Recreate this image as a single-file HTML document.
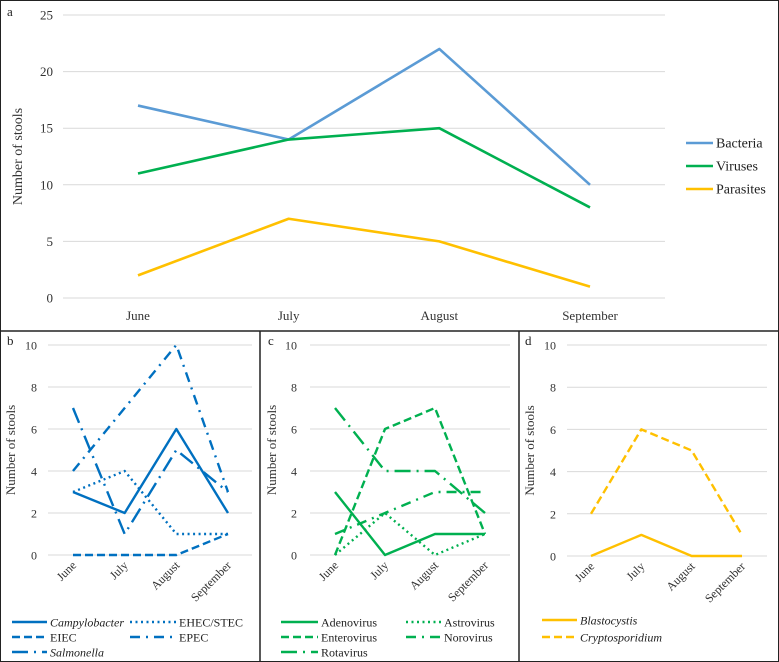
<!DOCTYPE html>
<html><head><meta charset="utf-8"><style>
html,body{margin:0;padding:0;background:#fff}
svg{display:block;font-family:"Liberation Serif",serif}
</style></head><body>
<svg id="c" width="779" height="662" viewBox="0 0 779 662" xmlns="http://www.w3.org/2000/svg">
<rect x="0.5" y="0.5" width="778" height="661" fill="#fff" stroke="#222"/>
<line x1="0" y1="331" x2="779" y2="331" stroke="#222" stroke-width="1.5"/>
<line x1="260" y1="331" x2="260" y2="662" stroke="#222" stroke-width="1.5"/>
<line x1="519" y1="331" x2="519" y2="662" stroke="#222" stroke-width="1.5"/>
</svg>
<script>
const months = ["June","July","August","September"];
// panel a
const aNames = ["Bacteria","Viruses","Parasites"];
const aBacteria = [17,14,22,10];
const aViruses = [11,14,15,8];
const aParasites = [2,7,5,1];
const aTicks = [0,5,10,15,20,25];
// panel b
const bNames = ["Campylobacter","EHEC/STEC","EIEC","EPEC","Salmonella"];
const bCampylobacter = [3,2,6,2];
const bEHEC = [3,4,1,1];
const bEIEC = [0,0,0,1];
const bEPEC = [4,7,10,3];
const bSalmonella = [7,1,5,3];
// panel c
const cNames = ["Adenovirus","Astrovirus","Enterovirus","Norovirus","Rotavirus"];
const cAdenovirus = [3,0,1,1];
const cAstrovirus = [0,2,0,1];
const cEnterovirus = [0,6,7,1];
const cNorovirus = [1,2,3,3];
const cRotavirus = [7,4,4,2];
// panel d
const dNames = ["Blastocystis","Cryptosporidium"];
const dBlastocystis = [0,1,0,0];
const dCryptosporidium = [2,6,5,1];
const smallTicks = [0,2,4,6,8,10];

const NS="http://www.w3.org/2000/svg";
const svg=document.getElementById('c');
function el(tag,attrs,parent){const e=document.createElementNS(NS,tag);for(const k in attrs)e.setAttribute(k,attrs[k]);(parent||svg).appendChild(e);return e;}
function txt(s,attrs,parent){const e=el('text',attrs,parent);e.textContent=s;return e;}

function panel(cfg){
  const g=el('g',{});
  
  
  const ymax=cfg.ticks[cfg.ticks.length-1];
  const y=v=>cfg.y0+(cfg.y1-cfg.y0)*v/ymax;
  const x=i=>cfg.xs[0]+(cfg.xs[1]-cfg.xs[0])*i/(months.length-1);
  const lbl=txt(cfg.letter,{x:cfg.letterX,y:cfg.letterY,'font-size':13,fill:'#222'},g);
  
  
  cfg.ticks.forEach(t=>{
    const l=el('line',{x1:cfg.gx0,x2:cfg.gx1,y1:y(t),y2:y(t),stroke:'#d9d9d9','stroke-width':1},g);
    
    
    const tl=txt(String(t),{x:cfg.tickX,y:y(t)+4.5,'text-anchor':'end','font-size':cfg.fs,fill:'#333'},g);
    
    
  });
  const at=txt('Number of stools',{x:cfg.titleX,y:(cfg.y0+cfg.y1)/2,'text-anchor':'middle','font-size':cfg.fs+1,fill:'#333',transform:`rotate(-90 ${cfg.titleX} ${(cfg.y0+cfg.y1)/2})`},g);
  
  
  months.forEach((m,i)=>{
    let t;
    if(cfg.rot){
      const xx=x(i)+4, yy=cfg.y0+11;
      t=txt(m,{x:xx,y:yy,'text-anchor':'end','font-size':cfg.fs,fill:'#333',transform:`rotate(-45 ${xx} ${yy})`},g);
    } else {
      t=txt(m,{x:x(i),y:cfg.y0+22,'text-anchor':'middle','font-size':cfg.fs,fill:'#333'},g);
    }
    
    
  });
  cfg.series.forEach((s,k)=>{
    const pts=s.data.map((v,i)=>x(i)+','+y(v)).join(' ');
    const p=el('polyline',{points:pts,fill:'none',stroke:s.color,'stroke-width':cfg.sw,'stroke-dasharray':s.dash||'none','stroke-linejoin':'round'},g);
    
    
    const L=cfg.legend[k];
    const lg=el('g',{},g);
    
    
    el('line',{x1:L[0],x2:L[1],y1:L[2],y2:L[2],stroke:s.color,'stroke-width':cfg.sw,'stroke-dasharray':s.dash||'none'},lg);
    txt(s.name,{x:L[1]+3,y:L[2]+4.5,'font-size':cfg.lfs,fill:'#222','font-style':s.italic?'italic':'normal'},lg);
  });
}
const blue='#0070C0', green='#00B050', yel='#FFC000';
const DOT='2,3.5', DASH='8,4', DASHDOT='10,6,2,6', LDASHDOT='16,6,2,6';
panel({id:'panel-a',letter:'a',letterX:7,letterY:16,ticks:aTicks,y0:298,y1:15,gx0:63,gx1:665,xs:[138,590],tickX:53,titleX:22,fs:13,lfs:14,sw:2.6,rot:false,
  series:[{name:aNames[0],data:aBacteria,color:'#5B9BD5'},{name:aNames[1],data:aViruses,color:green},{name:aNames[2],data:aParasites,color:yel}],
  legend:[[686,713,143],[686,713,166],[686,713,189]]});
panel({id:'panel-b',letter:'b',letterX:7,letterY:345,ticks:smallTicks,y0:555,y1:345,gx0:48,gx1:252,xs:[73,228],tickX:37,titleX:15,fs:12,lfs:12,sw:2.4,rot:true,
  series:[{name:bNames[0],data:bCampylobacter,color:blue,italic:true},{name:bNames[1],data:bEHEC,color:blue,dash:DOT},{name:bNames[2],data:bEIEC,color:blue,dash:DASH},{name:bNames[3],data:bEPEC,color:blue,dash:DASHDOT},{name:bNames[4],data:bSalmonella,color:blue,dash:LDASHDOT,italic:true}],
  legend:[[12,47,622],[130,176,622],[12,47,637],[130,176,637],[12,47,652]]});
panel({id:'panel-c',letter:'c',letterX:268,letterY:345,ticks:smallTicks,y0:555,y1:345,gx0:310,gx1:510,xs:[335,485],tickX:297,titleX:276,fs:12,lfs:12,sw:2.4,rot:true,
  series:[{name:cNames[0],data:cAdenovirus,color:green},{name:cNames[1],data:cAstrovirus,color:green,dash:DOT},{name:cNames[2],data:cEnterovirus,color:green,dash:DASH},{name:cNames[3],data:cNorovirus,color:green,dash:DASHDOT},{name:cNames[4],data:cRotavirus,color:green,dash:LDASHDOT}],
  legend:[[281,318,622],[406,441,622],[281,318,637],[406,441,637],[281,318,652]]});
panel({id:'panel-d',letter:'d',letterX:525,letterY:345,ticks:smallTicks,y0:556,y1:345,gx0:567,gx1:767,xs:[591,742],tickX:556,titleX:534,fs:12,lfs:12,sw:2.4,rot:true,
  series:[{name:dNames[0],data:dBlastocystis,color:yel,italic:true},{name:dNames[1],data:dCryptosporidium,color:yel,dash:DASH,italic:true}],
  legend:[[542,577,620],[542,577,637]]});
</script>
</body></html>
